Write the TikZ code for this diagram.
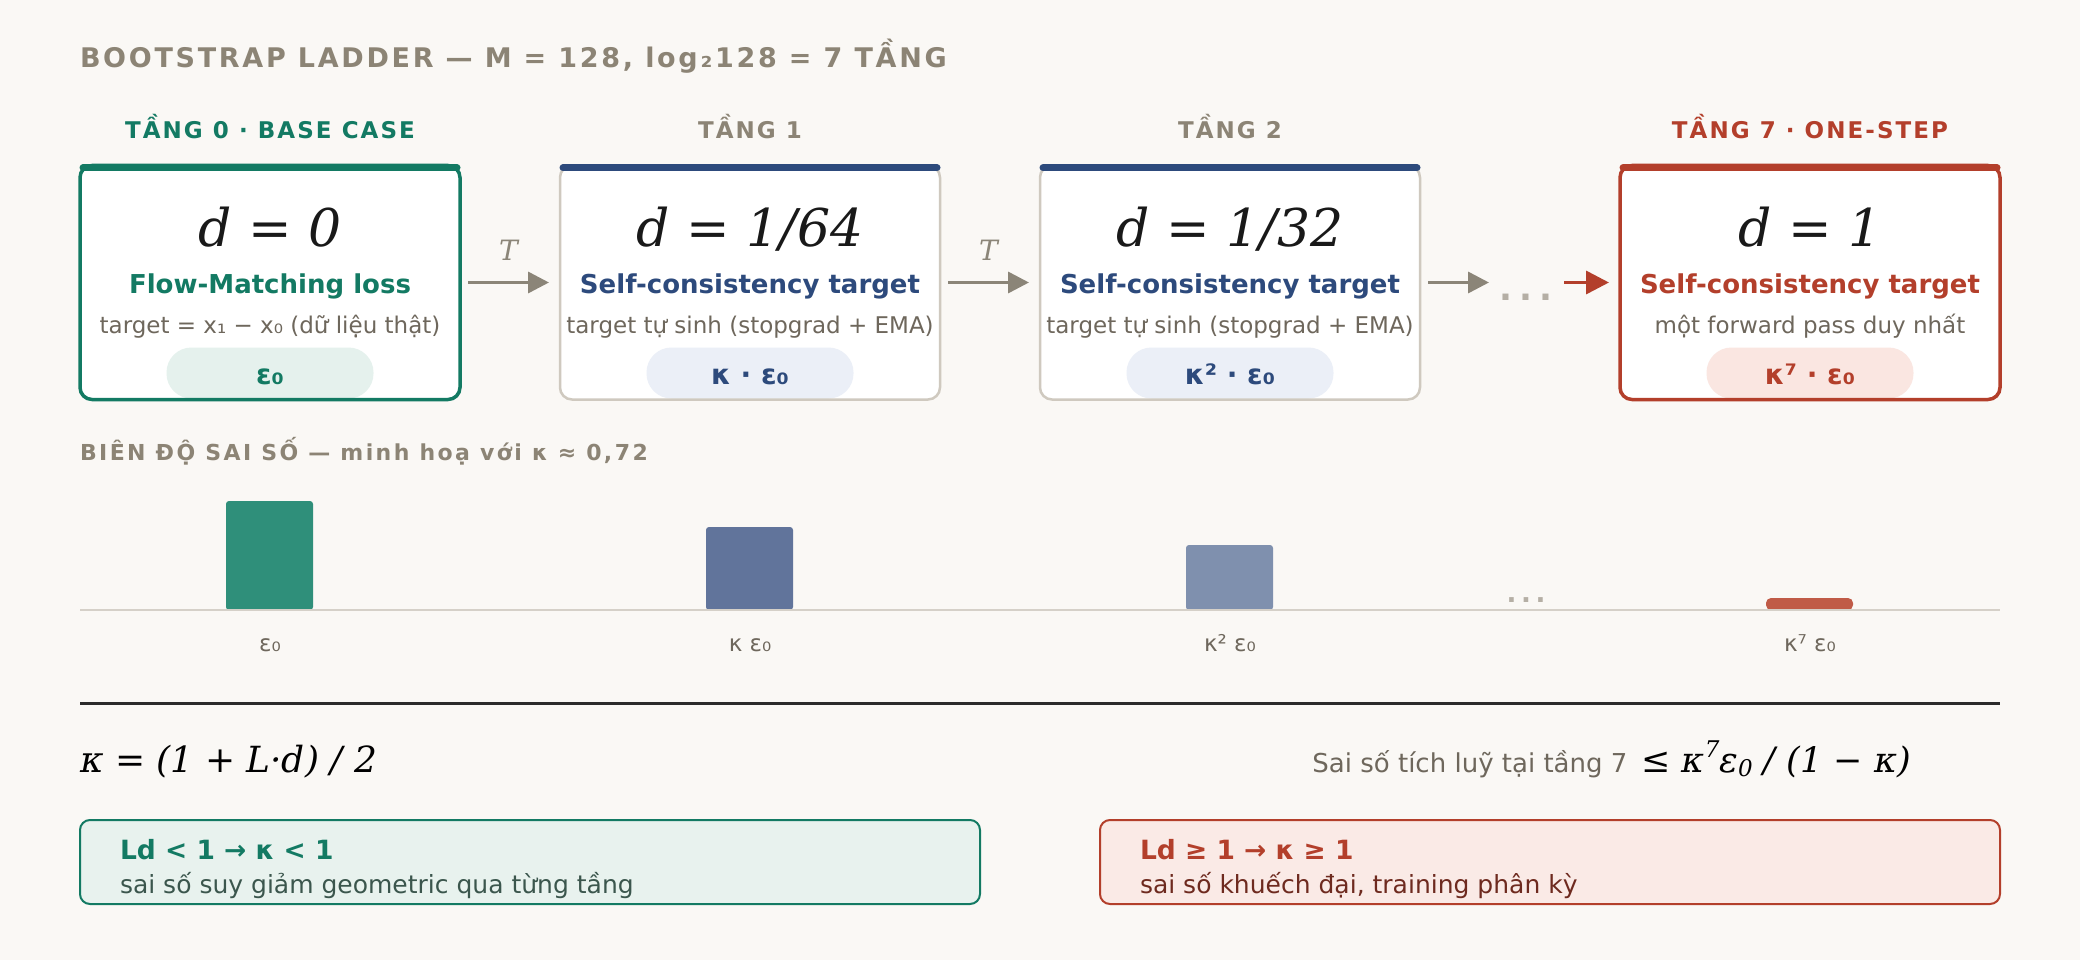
\documentclass[tikz,border=0pt]{standalone}
\usepackage{fontspec}
\setmainfont{DejaVu Sans}
\newfontfamily\seri{DejaVu Serif}
\usetikzlibrary{arrows.meta}
\definecolor{bg}{HTML}{FAF8F5}
\definecolor{teal}{HTML}{137A63}
\definecolor{navy}{HTML}{2D4A7C}
\definecolor{red}{HTML}{B33F2B}
\definecolor{labgray}{HTML}{8C8475}
\definecolor{subgray}{HTML}{6E675C}
\definecolor{bordgray}{HTML}{CFC9BF}
\definecolor{arrowgray}{HTML}{8B8578}
\definecolor{dotgray}{HTML}{B5AFA5}
\definecolor{pillteal}{HTML}{E5F1ED}
\definecolor{pillnavy}{HTML}{EBEFF7}
\definecolor{pillred}{HTML}{FAE6E1}
\definecolor{barteal}{HTML}{2F8F7A}
\definecolor{barnavyA}{HTML}{61749B}
\definecolor{barnavyB}{HTML}{7F90AE}
\definecolor{barred}{HTML}{C05B47}
\definecolor{axisgray}{HTML}{D5D0C8}
\definecolor{sepdark}{HTML}{2B2B2B}
\definecolor{gfill}{HTML}{E8F2EE}
\definecolor{rfill}{HTML}{FAEAE6}
\definecolor{gtext}{HTML}{3B564D}
\definecolor{rtext}{HTML}{6E2A1F}
\newcommand{\fsz}[1]{\fontsize{#1pt}{#1pt}\selectfont}
\newcommand{\lsp}[1]{\addfontfeatures{LetterSpace=#1}}
\begin{document}
\begin{tikzpicture}[x=1pt,y=-1pt,
  txt/.style={inner sep=0pt, outer sep=0pt, anchor=base},
  card/.style={rounded corners=12pt, fill=white, minimum width=380pt, minimum height=234pt, inner sep=0pt, outer sep=0pt},
  pill/.style={rounded corners=25pt, minimum width=207pt, minimum height=51pt, inner sep=0pt, outer sep=0pt},
  topbar/.style={line width=7pt, line cap=round},
  arr/.style={draw=arrowgray, line width=3.5pt, -{Triangle[length=21pt,width=21pt]}},
  rarr/.style={draw=red, line width=3.5pt, -{Triangle[length=23pt,width=23pt]}},
  tier/.style={txt, font=\bfseries\fsz{23}\lsp{9}},
  dform/.style={txt, font=\seri\itshape\fsz{52}, text=black!90},
  head/.style={txt, font=\bfseries\fsz{26}},
  sub/.style={txt, font=\fsz{23}, text=subgray},
  pilltxt/.style={txt, font=\bfseries\fsz{28}},
  tlab/.style={txt, yshift=22pt, font=\seri\itshape\fsz{28}, text=arrowgray},
  barlab/.style={txt, font=\fsz{23}, text=subgray},
  note/.style={rounded corners=10pt, line width=2pt, minimum width=900pt, minimum height=84pt, inner sep=0pt, outer sep=0pt}
]
\useasboundingbox (0,0) rectangle (2080,960);
\fill[bg] (0,0) rectangle (2080,960);

% title
\node[txt, anchor=base west, font=\bfseries\fsz{27}\lsp{10}, text=labgray] (title) at (80,68) {BOOTSTRAP LADDER — M = 128, log₂128 = 7 TẦNG};

% tier labels
\node[tier, text=teal] (l0) at (270,139) {TẦNG 0 · BASE CASE};
\node[tier, text=labgray] (l1) at (750,139) {TẦNG 1};
\node[tier, text=labgray] (l2) at (1230,139) {TẦNG 2};
\node[tier, text=red] (l7) at (1810,139) {TẦNG 7 · ONE-STEP};

% cards (fill)
\node[card] (b0) at (270,282.5) {};
\node[card] (b1) at (750,282.5) {};
\node[card] (b2) at (1230,282.5) {};
\node[card] (b7) at (1810,282.5) {};

% pills
\node[pill, fill=pillteal] (p0) at (270,373) {};
\node[pill, fill=pillnavy] (p1) at (750,373) {};
\node[pill, fill=pillnavy] (p2) at (1230,373) {};
\node[pill, fill=pillred] (p7) at (1810,373) {};

% card borders
\draw[teal, line width=3.5pt, rounded corners=12pt] (b0.north west) rectangle (b0.south east);
\draw[bordgray, line width=2.5pt, rounded corners=12pt] (b1.north west) rectangle (b1.south east);
\draw[bordgray, line width=2.5pt, rounded corners=12pt] (b2.north west) rectangle (b2.south east);
\draw[red, line width=3.5pt, rounded corners=12pt] (b7.north west) rectangle (b7.south east);

% top bars
\draw[topbar, teal] ([xshift=3pt,yshift=-2.5pt]b0.north west) -- ([xshift=-3pt,yshift=-2.5pt]b0.north east);
\draw[topbar, navy] ([xshift=3pt,yshift=-2.5pt]b1.north west) -- ([xshift=-3pt,yshift=-2.5pt]b1.north east);
\draw[topbar, navy] ([xshift=3pt,yshift=-2.5pt]b2.north west) -- ([xshift=-3pt,yshift=-2.5pt]b2.north east);
\draw[topbar, red] ([xshift=3pt,yshift=-2.5pt]b7.north west) -- ([xshift=-3pt,yshift=-2.5pt]b7.north east);

% card contents
\node[dform] (d0) at (270,247) {d = 0};
\node[dform] (d1) at (750,247) {d = 1/64};
\node[dform] (d2) at (1230,247) {d = 1/32};
\node[dform] (d7) at (1810,247) {d = 1};

\node[head, text=teal] (h0) at (270,293) {Flow-Matching loss};
\node[head, text=navy] (h1) at (750,293) {Self-consistency target};
\node[head, text=navy] (h2) at (1230,293) {Self-consistency target};
\node[head, text=red] (h7) at (1810,293) {Self-consistency target};

\node[sub] (s0) at (270,333) {target = x₁ − x₀ (dữ liệu thật)};
\node[sub] (s1) at (750,333) {target tự sinh (stopgrad + EMA)};
\node[sub] (s2) at (1230,333) {target tự sinh (stopgrad + EMA)};
\node[sub] (s7) at (1810,333) {một forward pass duy nhất};

\node[pilltxt, text=teal] (e0) at (270,384) {ε₀};
\node[pilltxt, text=navy] (e1) at (750,384) {κ · ε₀};
\node[pilltxt, text=navy] (e2) at (1230,384) {κ² · ε₀};
\node[pilltxt, text=red] (e7) at (1810,384) {κ⁷ · ε₀};

% connectors
\node[txt, font=\bfseries\fsz{34}\lsp{20}, text=dotgray] (dt) at (1526,300) {...};
\coordinate (g3e) at (1489,282.5);
\coordinate (r3s) at (1564,282.5);
\draw[arr] ([xshift=8pt]b0.east) -- node[tlab] (t1) {T} ([xshift=-11pt]b1.west);
\draw[arr] ([xshift=8pt]b1.east) -- node[tlab] (t2) {T} ([xshift=-11pt]b2.west);
\draw[arr] ([xshift=8pt]b2.east) -- (g3e);
\draw[rarr] (r3s) -- ([xshift=-11pt]b7.west);

% error amplitude chart
\node[txt, anchor=base west, font=\bfseries\fsz{22}\lsp{11}, text=labgray] (sec) at (80,460) {BIÊN ĐỘ SAI SỐ — minh hoạ với κ ≈ 0,72};
\fill[barteal, rounded corners=3pt] (226,501) rectangle (313,610);
\fill[barnavyA, rounded corners=3pt] (706,527) rectangle (793,610);
\fill[barnavyB, rounded corners=3pt] (1186,545) rectangle (1273,610);
\fill[barred, rounded corners=5pt] (1766,598) rectangle (1853,610);
\draw[axisgray, line width=2.5pt] (80,610) -- (2000,610);
\node[txt, font=\bfseries\fsz{26}\lsp{18}, text=dotgray] (cdots) at (1526,602) {...};
\node[barlab] (c0) at (270,651) {ε₀};
\node[barlab] (c1) at (750,651) {κ ε₀};
\node[barlab] (c2) at (1230,651) {κ² ε₀};
\node[barlab] (c7) at (1810,651) {κ⁷ ε₀};

% separator
\draw[sepdark, line width=3pt] (80,703) -- (2000,703);

% formulas
\node[txt, anchor=base west, font=\seri\itshape\fsz{36}] (kf) at (80,772) {κ = (1 + L·d) / 2};
\node[txt, anchor=base east] (acc) at (1911,772) {{\fsz{26}\color{subgray}Sai số tích luỹ tại tầng 7}\hspace{14pt}{\seri\fsz{35}≤ \itshape κ\raisebox{0.42em}{\fsz{23}7}ε\raisebox{-0.12em}{\fsz{23}0} / (1 − κ)}};

% notes
\node[note, draw=teal, fill=gfill] (ng) at (530,862) {};
\node[note, draw=red, fill=rfill] (nr) at (1550,862) {};
\node[txt, anchor=base west, font=\bfseries\fsz{26.5}, text=teal] (ng1) at (120,859) {Ld < 1 → κ < 1};
\node[txt, anchor=base west, font=\fsz{25}, text=gtext] (ng2) at (120,893) {sai số suy giảm geometric qua từng tầng};
\node[txt, anchor=base west, font=\bfseries\fsz{26.5}, text=red] (nr1) at (1140,859) {Ld ≥ 1 → κ ≥ 1};
\node[txt, anchor=base west, font=\fsz{25}, text=rtext] (nr2) at (1140,893) {sai số khuếch đại, training phân kỳ};
\end{tikzpicture}
\end{document}
